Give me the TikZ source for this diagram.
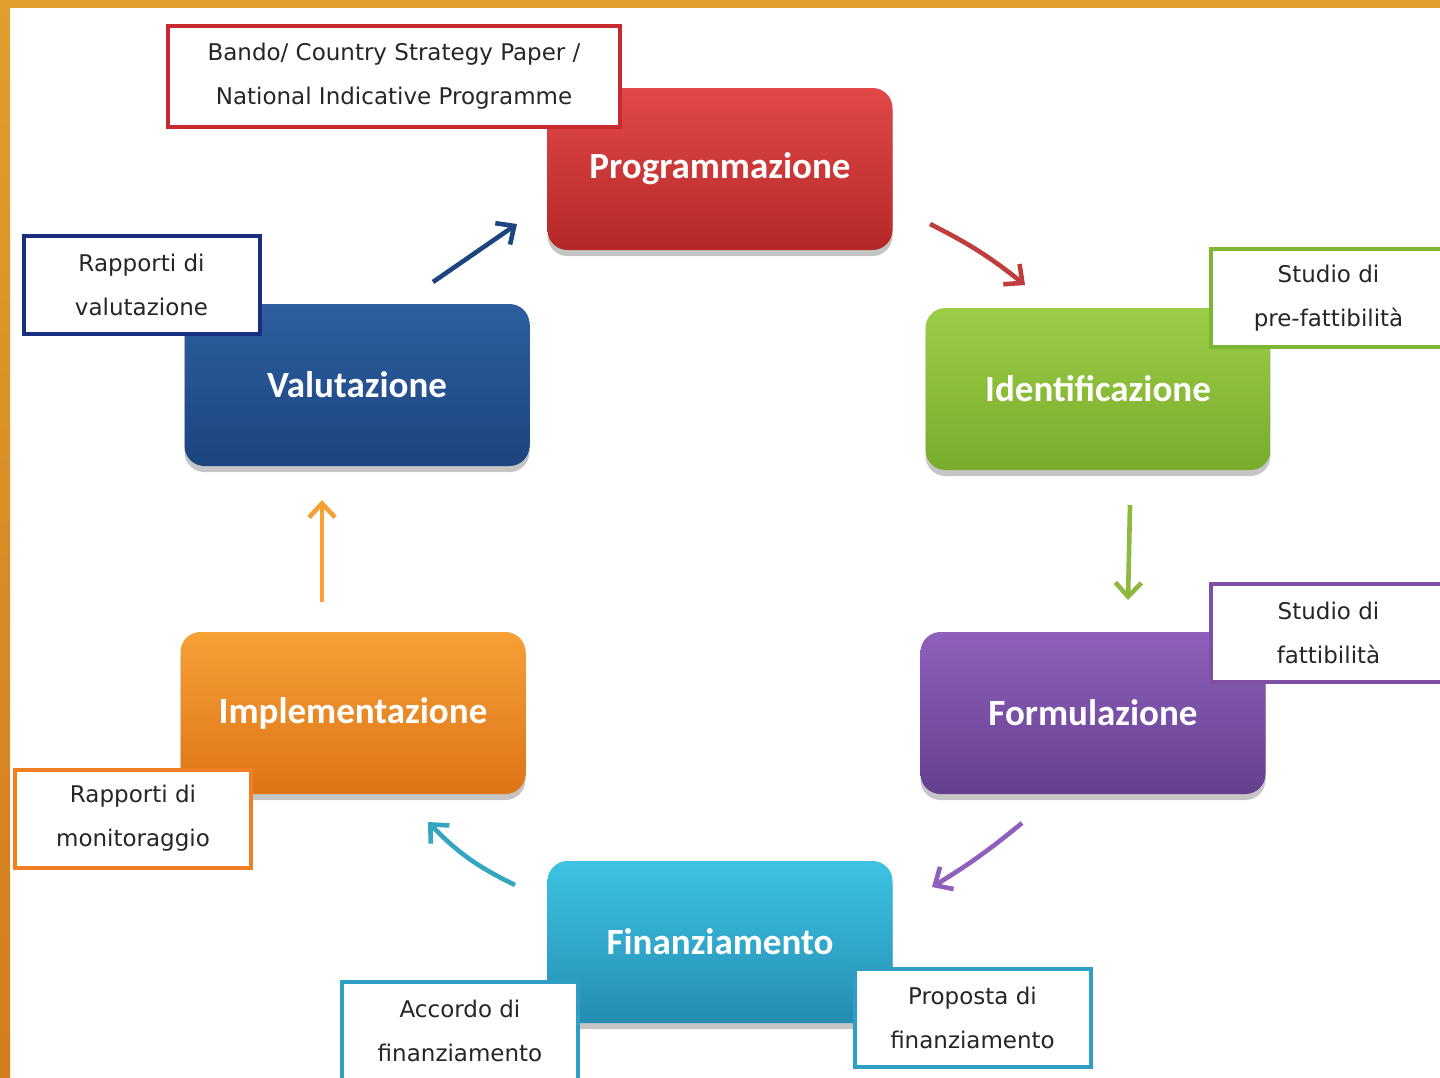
\documentclass[tikz,border=0pt]{standalone}
\usepackage{fontspec}
\setmainfont{DejaVu Sans}
\newfontfamily\phasefont{Carlito}
\usetikzlibrary{arrows.meta,shadows}

\definecolor{rim1}{HTML}{DF9E2D}
\definecolor{rim2}{HTML}{D27C1E}
\definecolor{prog}{HTML}{C82A30}  \definecolor{prog1}{HTML}{E24848}  \definecolor{prog2}{HTML}{B52828}
\definecolor{ident}{HTML}{7DB632} \definecolor{ident1}{HTML}{9CCD46} \definecolor{ident2}{HTML}{79AC2C}
\definecolor{form}{HTML}{7E4FA3}  \definecolor{form1}{HTML}{8E60BC}  \definecolor{form2}{HTML}{65408F}
\definecolor{fin}{HTML}{2E9EC4}   \definecolor{fin1}{HTML}{3DC3E3}   \definecolor{fin2}{HTML}{248DB3}
\definecolor{impl}{HTML}{F07E23}  \definecolor{impl1}{HTML}{F6A036}  \definecolor{impl2}{HTML}{DD7416}
\definecolor{valu}{HTML}{1A2E80}  \definecolor{valu1}{HTML}{2D5FA0}  \definecolor{valu2}{HTML}{1C447F}

\tikzset{
  phase/.style={rounded corners=10pt, minimum width=172.5pt, minimum height=81pt,
    text=white, font=\phasefont\bfseries\fontsize{18.5}{22}\selectfont,
    drop shadow={opacity=0.45, shadow xshift=0pt, shadow yshift=-3pt}},
  doc/.style={draw, line width=2pt, fill=white, align=center, text=black!85,
    font=\fontsize{11.5}{22}\selectfont, minimum width=118pt, minimum height=49pt, inner sep=0pt},
  cyc/.style={line width=2.3pt, -{Straight Barb[length=7pt,width=13pt]}}
}

\begin{document}
\begin{tikzpicture}[x=0.5pt,y=-0.5pt]
  \clip (0,0) rectangle (1440,1077);
  \fill[white] (0,0) rectangle (1440,1077);
  \fill[rim1] (0,0) rectangle (1440,8);
  \shade[top color=rim1, bottom color=rim2] (0,0) rectangle (10,1077);

  % phases
  \foreach \n/\x/\y/\t in {prog/720/169/Programmazione, ident/1098/389/Identificazione,
      form/1093/713/Formulazione, fin/720/942/Finanziamento,
      impl/353/713/Implementazione, valu/357/385/Valutazione}
    \node[phase, top color=\n1, bottom color=\n2] (\n) at (\x,\y) {\t};

  % documents
  \node[doc, draw=prog, minimum width=226pt, minimum height=50.5pt] (bando) at (394,76.5)
    {Bando/ Country Strategy Paper /\\National Indicative Programme};
  \node[doc, draw=valu] (rval) at (141.5,285) {Rapporti di\\valutazione};
  \node[doc, draw=ident] (pref) at (1328.5,298) {Studio di\\pre-fattibilità};
  \node[doc, draw=form] (fatt) at (1328.5,633) {Studio di\\fattibilità};
  \node[doc, draw=impl] (rmon) at (133,818.5) {Rapporti di\\monitoraggio};
  \node[doc, draw=fin] (acc) at (460,1031) {Accordo di\\finanziamento};
  \node[doc, draw=fin] (prop) at (972.5,1018) {Proposta di\\finanziamento};

  % cycle
  \coordinate (r1) at (930,224);  \coordinate (r2) at (1025,285);
  \coordinate (g1) at (1130,505); \coordinate (g2) at (1128,600);
  \coordinate (p1) at (1022,823); \coordinate (p2) at (932,887);
  \coordinate (c1) at (515,885);  \coordinate (c2) at (428,822);
  \coordinate (o1) at (322,602);  \coordinate (o2) at (322,500);
  \coordinate (b1) at (433,282);  \coordinate (b2) at (517,224);
  \draw[cyc, prog1!85!black] (r1) to[bend left=6] (r2);
  \draw[cyc, ident1!90!black] (g1) -- (g2);
  \draw[cyc, form1] (p1) to[bend left=4] (p2);
  \draw[cyc, fin1!85!black] (c1) to[bend left=10] (c2);
  \draw[cyc, impl1] (o1) -- (o2);
  \draw[cyc, valu2] (b1) -- (b2);
\end{tikzpicture}
\end{document}
